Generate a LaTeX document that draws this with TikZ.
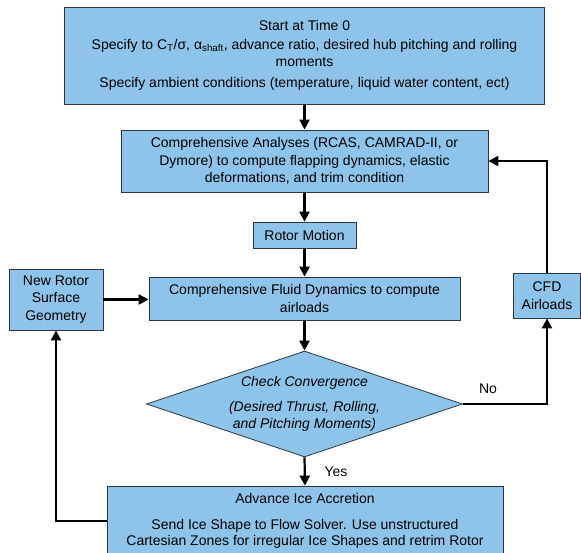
\documentclass[tikz,border=0pt]{standalone}
\usepackage{fontspec}
\setmainfont{Liberation Sans}
\usetikzlibrary{shapes.geometric,arrows.meta}
\definecolor{boxblue}{RGB}{142,196,233}
\definecolor{boxline}{RGB}{45,55,65}
\begin{document}
\begin{tikzpicture}
  [x=1pt,y=-1pt,
   every node/.style={font=\fontsize{14}{17.5}\selectfont},
   box/.style={draw=boxline, fill=boxblue, line width=0.8pt, align=center, inner sep=0pt},
   flow/.style={line width=2.2pt, -{Triangle[length=10pt,width=10pt]}}]
  \clip (0,0) rectangle (581,553);
  \node[box, minimum width=480pt, minimum height=97pt] (start) at (304.5,55.5)
    {Start at Time 0\\[1pt]
     Specify to C\textsubscript{T}/σ, α\textsubscript{shaft}, advance ratio, desired hub pitching and rolling\\
     moments\\[3pt]
     Specify ambient conditions (temperature, liquid water content, ect)};
  \node[box, minimum width=367pt, minimum height=62pt] (analyses) at (304.5,161)
    {Comprehensive Analyses (RCAS, CAMRAD-II, or\\
     Dymore) to compute flapping dynamics, elastic\\
     deformations, and trim condition};
  \node[box, minimum width=103pt, minimum height=26pt] (motion) at (304.5,235) {Rotor Motion};
  \node[box, minimum width=311pt, minimum height=43pt] (fluid) at (304.5,298.5)
    {Comprehensive Fluid Dynamics to compute\\ airloads};
  \node[box, minimum width=67pt, minimum height=45pt] (cfd) at (547,295.5) {CFD\\ Airloads};
  \node[box, minimum width=94pt, minimum height=61pt] (newgeom) at (56,299.5)
    {New Rotor\\ Surface\\ Geometry};
  \node[box, shape=diamond, aspect=3, minimum width=315pt, minimum height=106pt,
        font=\fontsize{14}{17.5}\selectfont\itshape] (check) at (304.5,404)
    {Check Convergence\\[7pt]
     (Desired Thrust, Rolling,\\ and Pitching Moments)};
  \node[box, minimum width=396pt, minimum height=70pt,
        font=\fontsize{14}{16.5}\selectfont] (advance) at (305,521)
    {Advance Ice Accretion\\[9pt]
     Send Ice Shape to Flow Solver. Use unstructured\\
     Cartesian Zones for irregular Ice Shapes and retrim Rotor};
  \node (nolabel) at (488,389) {No};
  \node (yeslabel) at (336,472) {Yes};

  \foreach \from/\to in {start/analyses, analyses/motion, motion/fluid, fluid/check, check/advance}
    \draw[flow] (\from.south) -- (\to.north);
  \draw[flow] (newgeom.east) -- (newgeom.east -| fluid.west);
  \draw[flow] (advance.west) -| (newgeom.south);
  \draw[flow] (check.east) -| (cfd.south);
  \draw[flow] (cfd.north) |- (analyses.east);
\end{tikzpicture}
\end{document}
